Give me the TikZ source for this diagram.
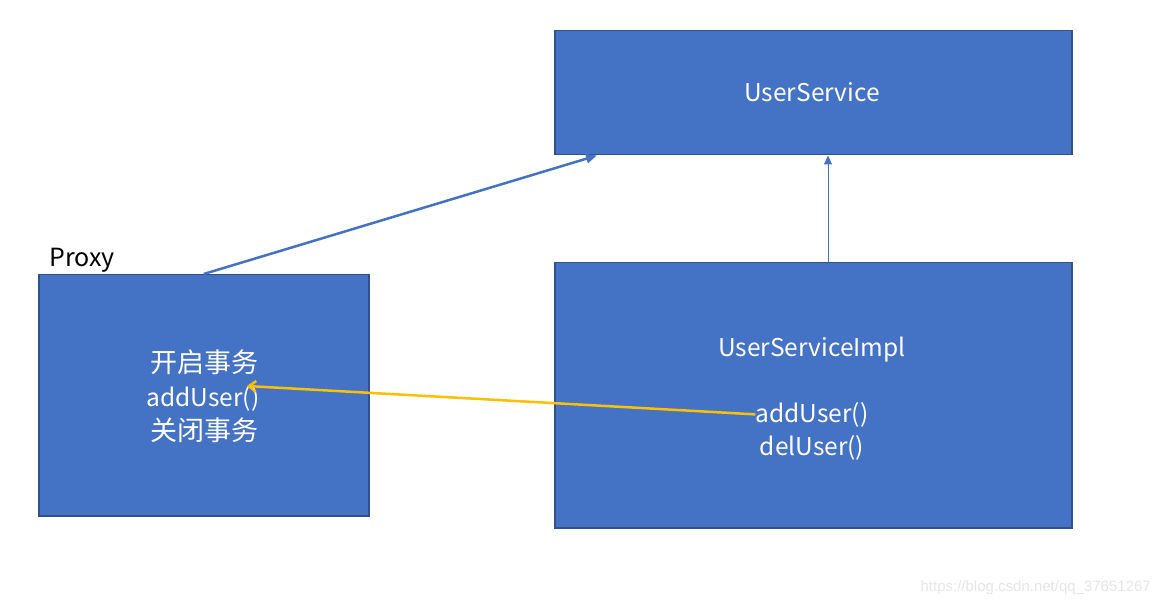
\documentclass[tikz,border=0pt]{standalone}
\usepackage{fontspec}
\setmainfont{Noto Sans CJK SC}
\newfontfamily\wmfont{Liberation Sans}
\usetikzlibrary{arrows.meta,calc}
\definecolor{boxfill}{HTML}{4472C4}
\definecolor{boxedge}{HTML}{2F528F}
\definecolor{arrowyellow}{HTML}{FFC000}
\definecolor{wmgray}{HTML}{E6E6E6}
\begin{document}
\begin{tikzpicture}[x=1pt,y=-1pt,
  box/.style={draw=boxedge, fill=boxfill, line width=1.5pt, anchor=north west, inner sep=0pt},
  txt/.style={text=white, font=\fontsize{24.5}{28}\selectfont, inner sep=0pt, anchor=base},
  cjktxt/.style={text=white, font=\fontsize{27}{30}\selectfont, inner sep=0pt, anchor=base},
  lbl/.style={text=black, font=\fontsize{25}{28}\selectfont, inner sep=0pt, anchor=base west},
  bluearrow/.style={draw=boxfill, line width=2.5pt, -{Triangle[length=11pt,width=9pt]}},
  thinarrow/.style={draw=boxfill, line width=1pt, -{Triangle[length=9pt,width=8pt]}},
  yellowarrow/.style={draw=arrowyellow, line width=2.5pt, -{Straight Barb[length=7pt,width=11pt]}}
]
\useasboundingbox (0,0) rectangle (1160,604);
\fill[white] (0,0) rectangle (1160,604);

% boxes
\node[box, minimum width=517pt, minimum height=124pt] (us) at (554,30) {};
\node[box, minimum width=330pt, minimum height=241pt] (proxy) at (38,274) {};
\node[box, minimum width=517pt, minimum height=265pt] (impl) at (554,262) {};

% texts
\node[txt] (usname) at (812,102) {UserService};
\node[lbl] (proxylbl) at (49,267) {Proxy};
\node[cjktxt] (proxyOpen) at (204,372) {开启事务};
\node[txt] (proxyAdd) at (203,406) {addUser()};
\node[cjktxt] (proxyClose) at (204,440) {关闭事务};
\node[txt] (implname) at (812,356) {UserServiceImpl};
\node[txt] (implAdd) at (812,422) {addUser()};
\node[txt] (implDel) at (812,455) {delUser()};

% connectors
\coordinate (usTip) at ($(us.south west)+(43,0)$);
\coordinate (usTip2) at ($(us.south west)+(274,0)$);
\coordinate (implTop) at ($(impl.north west)+(274,0)$);
\coordinate (proxyTip) at (247,386);
\draw[bluearrow] (proxy.north) -- (usTip);
\draw[thinarrow] (implTop) -- (usTip2);
\draw[yellowarrow] (implAdd.west) -- (proxyTip);

% watermark
\node[text=wmgray, font=\wmfont\fontsize{15}{18}\selectfont, inner sep=0pt, anchor=base east] (wm) at (1151,591) {https://blog.csdn.net/qq\_37651267};
\end{tikzpicture}
\end{document}
